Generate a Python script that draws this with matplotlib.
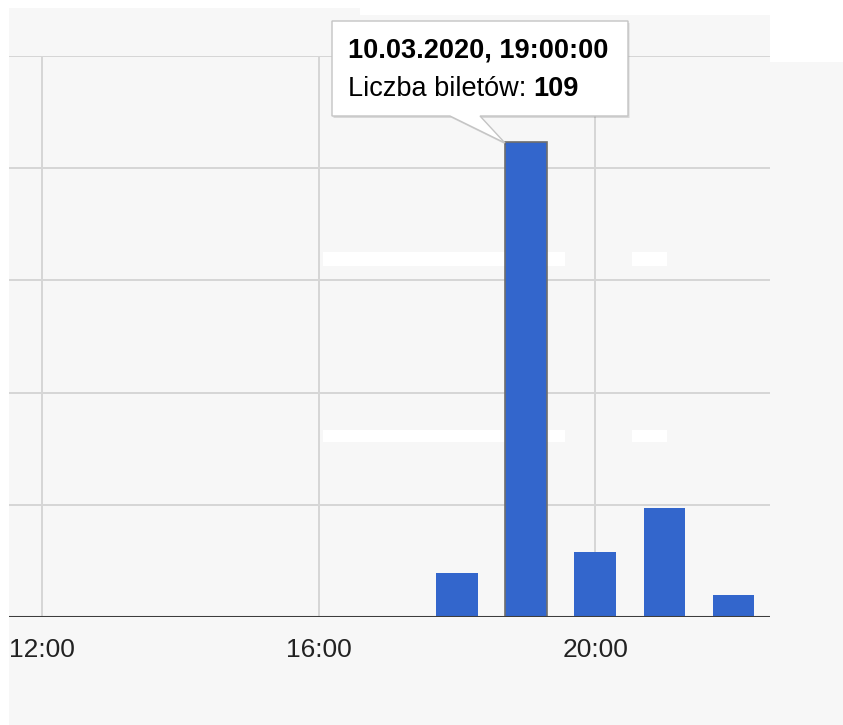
"""
 Tickets per hour - column chart with tooltip
"""
import numpy as np
import matplotlib.pyplot as plt
from matplotlib.patches import Rectangle, Polygon

W, H = 843, 725
DPI = 100

hours = [18, 19, 20, 21, 22]
tickets = [10, 109, 15, 25, 5]
tick_hours = [12, 16, 20]
tick_labels = ["12:00", "16:00", "20:00"]
tip_title = "10.03.2020, 19:00:00"
tip_label = "Liczba biletów:"
tip_value = "109"

BLUE = "#3366cc"
BG = "#f7f7f7"
GRID = "#d6d6d6"

plt.rcParams['font.family'] = ['Liberation Sans', 'DejaVu Sans']


def fx(x):
    """image px -> figure fraction (x)"""
    return x / W


def fy(y):
    """image px -> figure fraction (y, from top)"""
    return 1 - y / H


def px_rect(target, x0, y0, x1, y1, color, z):
    """rectangle given in image pixels"""
    r = Rectangle((fx(x0), fy(y1)), (x1 - x0) / W, (y1 - y0) / H,
                  transform=fig.transFigure, facecolor=color,
                  edgecolor='none', zorder=z)
    if target is fig:
        fig.patches.append(r)
    else:
        target.add_patch(r)


fig = plt.figure(figsize=(W / DPI, H / DPI), dpi=DPI, facecolor='white')

# screenshot background
px_rect(fig, 9, 8, 843, 725, BG, -2)
px_rect(fig, 360, 0, 843, 15, 'white', -1)
px_rect(fig, 770, 0, 843, 62, 'white', -1)

ax = fig.add_axes([fx(9), fy(617), (770 - 9) / W, (617 - 56) / H])
ax.set_facecolor('none')

# white marks inside plot
for (x0, x1) in [(323, 565), (632, 667)]:
    px_rect(ax, x0, 252, x1, 266, 'white', 0.4)
    px_rect(ax, x0, 430, x1, 442, 'white', 0.4)

edges = ['#6e6e6e' if h == 19 else 'none' for h in hours]
ax.bar(hours, tickets, width=0.6, color=BLUE, edgecolor=edges,
       linewidth=1.2, zorder=2)

y_top = 128.7
ax.set_xlim(11.52, 22.53)
ax.set_ylim(0, y_top)
ax.set_yticks(np.linspace(0, y_top, 6))
ax.set_yticklabels([])
ax.set_xticks(tick_hours, tick_labels)
ax.tick_params(axis='both', length=0)
ax.tick_params(axis='x', pad=15, labelsize=19, labelcolor='#222222')
ax.set_axisbelow(True)
ax.grid(True, color=GRID, linewidth=1.4)
for s in ax.spines.values():
    s.set_visible(False)
ax.axhline(0, color='#3d3d3d', linewidth=2.2, zorder=3)

# tooltip
tip = [(332, 21), (628, 21), (628, 116), (480, 116), (505, 143),
       (450, 116), (332, 116)]
shadow = Polygon([(fx(x + 1.5), fy(y + 2)) for x, y in tip], closed=True,
                 transform=fig.transFigure, facecolor='#000000', alpha=0.12,
                 edgecolor='none', zorder=5)
box = Polygon([(fx(x), fy(y)) for x, y in tip], closed=True,
              transform=fig.transFigure, facecolor='white',
              edgecolor='#c4c4c4', linewidth=1.0, zorder=6)
fig.patches.extend([shadow, box])

fig.text(fx(348), fy(57), tip_title, fontsize=19.5, fontweight='bold',
         va='baseline', color='black', zorder=7)
t = fig.text(fx(348), fy(96), tip_label, fontsize=19.5, va='baseline',
             color='black', zorder=7)
fig.canvas.draw()
bb = t.get_window_extent()
fig.text((bb.x1 + 7) / W, fy(96), tip_value, fontsize=19.5,
         fontweight='bold', va='baseline', color='black', zorder=7)

fig.savefig('out.png', dpi=DPI, facecolor=fig.get_facecolor())
